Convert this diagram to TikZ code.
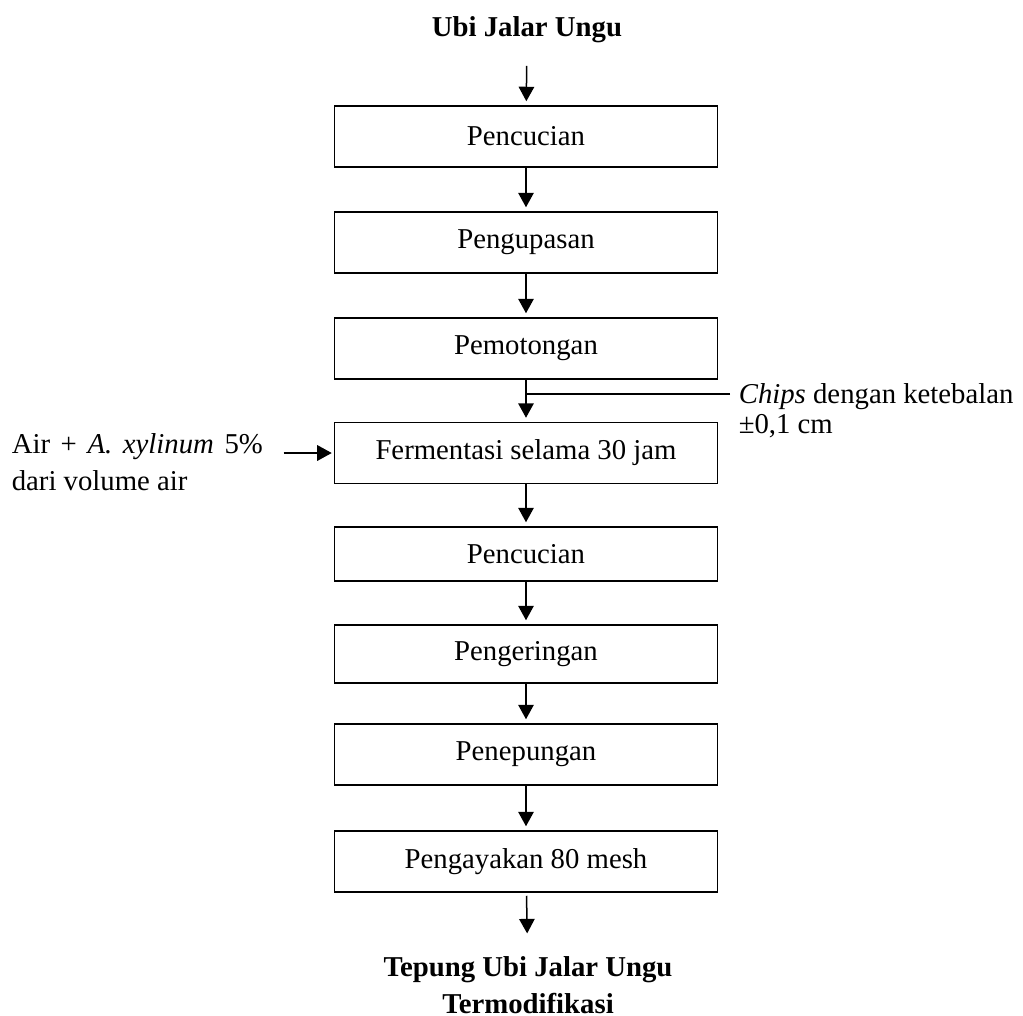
\documentclass[tikz,border=0pt]{standalone}
\usepackage{fontspec}
\setmainfont{Liberation Serif}
\usepackage{tikz}
\usetikzlibrary{arrows.meta}
\tikzset{
	box/.style={draw, line width=0.6pt, minimum width=153.2pt, minimum height=24.4pt, inner sep=0pt},
	arr/.style={line width=0.6pt, -{Triangle[width=6.2pt,length=5.8pt]}, shorten >=1.6pt},
	lbl/.style={inner sep=3.33pt}
}

\begin{document}
\begin{tikzpicture}[x=0.4pt, y=-0.4pt, font=\fontsize{11.5}{13.8}\selectfont]
			%%%%% START %%%%%
			\useasboundingbox (0, 0) rectangle (1023, 1016);
			
			\node[lbl, font=\fontsize{11.5}{13.8}\selectfont\bfseries] (ubi) at (527, 30) {Ubi Jalar Ungu};
			
			\node[box] (cuci) at (526, 136.5) {Pencucian};
			\node[box] (kupas) at (526, 242.5) {Pengupasan};
			\node[box] (potong) at (526, 348.5) {Pemotongan};
			\node[box] (ferm) at (526, 453) {Fermentasi selama 30 jam};
			\node[box, minimum height=21.6pt] (cuci2) at (526, 554) {Pencucian};
			\node[box, minimum height=23.2pt] (kering) at (526, 654) {Pengeringan};
			\node[box] (tepung) at (526, 754.5) {Penepungan};
			\node[box] (ayak) at (526, 861.5) {Pengayakan 80 mesh};
			
			\node[inner sep=1pt, font=\fontsize{11.5}{14.8}\selectfont\bfseries, align=center] (hasil) at (528, 985) {Tepung Ubi Jalar Ungu\\Termodifikasi};
			
			\node[lbl, anchor=west, align=left, font=\fontsize{11.5}{12}\selectfont] (chips) at (730, 411) {\textit{Chips} dengan ketebalan\\±0,1 cm};
			\node[lbl, anchor=west, text width=100.4pt, align=justify, font=\fontsize{11.5}{14.8}\selectfont] (air) at (3, 462.5) {Air + \textit{A. xylinum} 5\%\linebreak dari volume air};
			
			\coordinate (cut) at (526, 394);
			
			%%%%% ARROWS %%%%%
			\draw[arr, shorten <=5.6pt] (ubi) -- (cuci);
			\draw[arr] (cuci) -- (kupas);
			\draw[arr] (kupas) -- (potong);
			\draw[arr] (potong) -- (ferm);
			\draw[line width=0.6pt] (chips.west |- cut) -- (cut);
			\draw[arr, shorten <=4.8pt, shorten >=0.8pt] (air.east |- ferm.west) -- (ferm.west);
			\draw[arr] (ferm) -- (cuci2);
			\draw[arr] (cuci2) -- (kering);
			\draw[arr] (kering) -- (tepung);
			\draw[arr] (tepung) -- (ayak);
			\draw[arr, shorten <=1.2pt, shorten >=8pt] (ayak) -- (hasil);
			
			%%%%% END %%%%%
		\end{tikzpicture}
\end{document}
